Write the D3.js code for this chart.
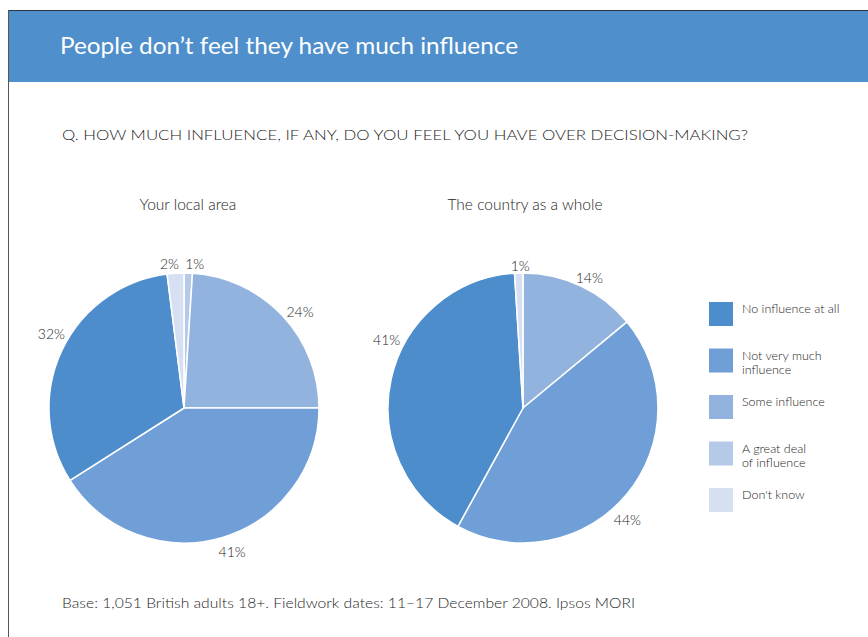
<!DOCTYPE html>
<html>
<head>
<meta charset="utf-8">
<script src="https://cdn.jsdelivr.net/npm/d3@7"></script>
<style>
  body { margin: 0; background: #fff; }
  text { font-family: Lato, "Open Sans", sans-serif; font-weight: 300; }
</style>
</head>
<body>
<script>
// categories, in legend order
const categories = ["No influence at all", "Not very much influence", "Some influence", "A great deal of influence", "Don't know"];
const legendLines = [["No influence at all"], ["Not very much", "influence"], ["Some influence"], ["A great deal", "of influence"], ["Don't know"]];
const colors = ["#4e8dcb", "#6f9fd6", "#93b3df", "#b5c9e9", "#d7e0f3"];

// values (%) per pie, in legend order
const localValues = [32, 41, 24, 1, 2];
const countryValues = [41, 44, 14, 0, 1];
const pieTitles = ["Your local area", "The country as a whole"];

// slices go clockwise from 12 o'clock in this order
const sliceOrder = [3, 2, 1, 0, 4];

const W = 868, H = 637;
const ink = "#262626";
const svg = d3.select("body").append("svg")
  .attr("width", W).attr("height", H);

// frame + header
svg.append("rect").attr("x", 9).attr("y", 11).attr("width", W - 9).attr("height", 71).attr("fill", "#4f8fcb");
svg.append("line").attr("x1", 8).attr("x2", W).attr("y1", 10.5).attr("y2", 10.5).attr("stroke", "#2b3440").attr("stroke-width", 1);
svg.append("line").attr("x1", 8.5).attr("x2", 8.5).attr("y1", 10).attr("y2", H).attr("stroke", "#555").attr("stroke-width", 1);

svg.append("text").attr("x", 60).attr("y", 54)
  .attr("fill", "#fff").attr("font-size", 24).style("font-weight", 400)
  .attr("textLength", 458).attr("lengthAdjust", "spacingAndGlyphs")
  .text("People don\u2019t feel they have much influence");

svg.append("text").attr("x", 62).attr("y", 140)
  .attr("fill", ink).attr("font-size", 14.5)
  .attr("textLength", 686).attr("lengthAdjust", "spacingAndGlyphs")
  .text("Q. HOW MUCH INFLUENCE, IF ANY, DO YOU FEEL YOU HAVE OVER DECISION-MAKING?");

svg.append("text").attr("x", 62).attr("y", 608)
  .attr("fill", ink).attr("font-size", 14)
  .attr("textLength", 573).attr("lengthAdjust", "spacingAndGlyphs")
  .text("Base:  1,051 British adults 18+. Fieldwork dates: 11\u201317 December  2008. Ipsos MORI");

// pies
const radius = 135;
const centers = [[184, 408], [523, 408]];
const pie = d3.pie().sort(null).value(i => i.v);
const arc = d3.arc().innerRadius(0).outerRadius(radius);
const labelArc = d3.arc().innerRadius(151).outerRadius(151);

// small label nudges, keyed by pie then category index
const nudges = [
  {0: [4, -10], 1: [6, -2], 2: [6, 7], 3: [6, 6], 4: [-5, 6]},
  {0: [11, -36], 1: [-12, 15], 2: [2, 6], 4: [2, 8]}
];

[localValues, countryValues].forEach((vals, p) => {
  const g = svg.append("g").attr("transform", `translate(${centers[p][0]},${centers[p][1]})`);
  const items = sliceOrder.map(i => ({i: i, v: vals[i]}));
  const arcs = pie(items);

  g.selectAll("path")
    .data(arcs.filter(d => d.data.v > 0))
    .join("path")
    .attr("d", arc)
    .attr("fill", d => colors[d.data.i])
    .attr("stroke", "#fff")
    .attr("stroke-width", 1.5)
    .attr("stroke-linejoin", "round");

  g.selectAll("text.lbl")
    .data(arcs.filter(d => d.data.v > 0))
    .join("text")
    .attr("class", "lbl")
    .attr("x", d => labelArc.centroid(d)[0] + (nudges[p][d.data.i] || [0, 0])[0])
    .attr("y", d => labelArc.centroid(d)[1] + (nudges[p][d.data.i] || [0, 0])[1])
    .attr("text-anchor", "middle")
    .attr("dominant-baseline", "central")
    .attr("font-size", 14)
    .attr("fill", ink)
    .text(d => d.data.v + "%");

  svg.append("text")
    .attr("x", centers[p][0] + (p === 0 ? 4 : 2))
    .attr("y", 210)
    .attr("text-anchor", "middle")
    .attr("font-size", 15.5)
    .attr("fill", ink)
    .text(pieTitles[p]);
});

// legend
const ly = d3.scaleLinear().domain([0, 4]).range([302, 488]);
const leg = svg.append("g");
categories.forEach((c, i) => {
  leg.append("rect")
    .attr("x", 709).attr("y", ly(i))
    .attr("width", 24).attr("height", 24)
    .attr("fill", colors[i]);
  legendLines[i].forEach((line, k) => {
    leg.append("text")
      .attr("x", 742).attr("y", ly(i) + 11 + k * 14)
      .attr("font-size", 12.5).attr("fill", ink)
      .text(line);
  });
});
</script>
</body>
</html>
